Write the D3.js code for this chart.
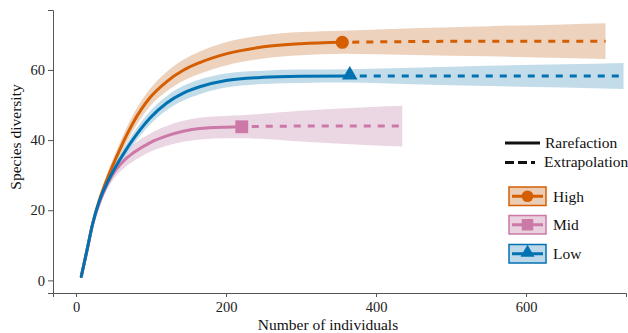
<!DOCTYPE html>
<html>
<head>
<meta charset="utf-8">
<script src="https://cdn.jsdelivr.net/npm/d3@7"></script>
<style>
  html, body { margin: 0; padding: 0; background: #fff; }
  svg { display: block; font-family: "Liberation Serif", "Times New Roman", serif; }
</style>
</head>
<body>
<svg id="chart" width="628" height="333"></svg>
<script>
// ---------- Data ----------
const groups = ["High", "Mid", "Low"];
const groupColors = ["#D55E00", "#CC79A7", "#0072B2"];
const bandColors  = ["#EBCDB6", "#E9D1E0", "#BDD8E8"];

// Rarefaction (observed) curves
const highN    = [7, 15, 22, 31, 42, 54, 66, 76, 99, 121, 143, 165, 200, 250, 300, 355];
const highMean = [1.1, 9.0, 16.0, 22.8, 29.2, 35.2, 40.8, 44.9, 52.2, 56.7, 59.9, 62.1, 64.6, 66.6, 67.5, 67.9];
const highLo   = [0.9, 8.5, 15.2, 21.7, 27.7, 33.4, 38.7, 42.6, 49.7, 53.9, 56.9, 58.9, 61.3, 63.3, 64.2, 64.6];
const highHi   = [1.3, 9.5, 16.8, 23.9, 30.7, 37.0, 42.9, 47.2, 54.7, 59.5, 62.9, 65.3, 67.9, 69.9, 70.8, 71.2];

const midN     = [7, 15, 22, 31, 42, 54, 66, 76, 99, 121, 143, 165, 200, 221];
const midMean  = [1.1, 8.9, 15.8, 22.0, 27.6, 31.8, 34.6, 36.3, 39.3, 41.2, 42.5, 43.3, 43.7, 43.8];
const midLo    = [0.9, 8.4, 15.0, 20.9, 26.1, 29.9, 32.4, 33.9, 36.7, 38.4, 39.5, 40.2, 40.5, 40.5];
const midHi    = [1.3, 9.4, 16.6, 23.1, 29.1, 33.7, 36.8, 38.7, 41.9, 44.0, 45.5, 46.4, 46.9, 47.1];

const lowN     = [7, 15, 22, 31, 42, 54, 66, 76, 99, 121, 143, 165, 200, 250, 300, 365];
const lowMean  = [1.1, 9.0, 16.0, 22.6, 28.0, 32.8, 37.0, 40.2, 46.4, 50.6, 53.4, 55.2, 57.0, 57.9, 58.2, 58.3];
const lowLo    = [0.9, 8.6, 15.4, 21.8, 26.9, 31.5, 35.5, 38.5, 44.5, 48.6, 51.3, 53.1, 55.0, 56.0, 56.3, 56.4];
const lowHi    = [1.3, 9.4, 16.6, 23.4, 29.1, 34.1, 38.5, 41.9, 48.3, 52.6, 55.5, 57.3, 59.0, 59.8, 60.1, 60.2];

// Extrapolation curves
const highExtN    = [355, 450, 550, 650, 706];
const highExtMean = [67.9, 68.1, 68.2, 68.2, 68.2];
const highExtLo   = [64.6, 64.3, 63.9, 63.4, 63.1];
const highExtHi   = [71.2, 71.9, 72.5, 73.0, 73.3];

const midExtN     = [221, 300, 380, 435];
const midExtMean  = [43.8, 44.0, 44.0, 44.0];
const midExtLo    = [40.5, 39.6, 38.7, 38.2];
const midExtHi    = [47.1, 48.4, 49.3, 49.8];

const lowExtN     = [365, 450, 550, 650, 730];
const lowExtMean  = [58.3, 58.3, 58.3, 58.3, 58.3];
const lowExtLo    = [56.4, 55.9, 55.4, 55.0, 54.6];
const lowExtHi    = [60.2, 60.6, 61.2, 61.6, 62.0];

const xTicks = [0, 200, 400, 600];
const yTicks = [0, 20, 40, 60];
const xTitle = "Number of individuals";
const yTitle = "Species diversity";
const lineTypes = ["Rarefaction", "Extrapolation"];

// ---------- Build ----------
const zip = (n, m, lo, hi) => n.map((v, i) => ({ n: v, m: m[i], lo: lo[i], hi: hi[i] }));
const series = [
  { name: "High", color: groupColors[0], band: bandColors[0], shape: d3.symbolCircle, size: 135,
    obs: zip(highN, highMean, highLo, highHi), ext: zip(highExtN, highExtMean, highExtLo, highExtHi) },
  { name: "Mid", color: groupColors[1], band: bandColors[1], shape: d3.symbolSquare, size: 165,
    obs: zip(midN, midMean, midLo, midHi), ext: zip(midExtN, midExtMean, midExtLo, midExtHi) },
  { name: "Low", color: groupColors[2], band: bandColors[2], shape: d3.symbolTriangle, size: 105,
    obs: zip(lowN, lowMean, lowLo, lowHi), ext: zip(lowExtN, lowExtMean, lowExtLo, lowExtHi) }
];

const svg = d3.select("#chart");
const x = d3.scaleLinear().domain([-30.7, 733.3]).range([53, 626]);
const y = d3.scaleLinear().domain([-3.6, 77.1]).range([293, 10]);

const area = d3.area().x(d => x(d.n)).y0(d => y(d.lo)).y1(d => y(d.hi)).curve(d3.curveMonotoneX);
const line = d3.line().x(d => x(d.n)).y(d => y(d.m)).curve(d3.curveMonotoneX);

// Bands
const bandG = svg.append("g");
series.forEach(s => {
  bandG.append("path").datum(s.obs.concat(s.ext.slice(1)))
    .attr("d", area).attr("fill", s.band).attr("fill-opacity", 0.9);
});

// Lines
const lineG = svg.append("g");
series.forEach(s => {
  lineG.append("path").datum(s.ext).attr("d", line)
    .attr("fill", "none").attr("stroke", s.color).attr("stroke-width", 3)
    .attr("stroke-dasharray", "7,7").attr("stroke-dashoffset", -10);
});
series.forEach(s => {
  lineG.append("path").datum(s.obs).attr("d", line)
    .attr("fill", "none").attr("stroke", s.color).attr("stroke-width", 3)
    .attr("stroke-linecap", "round");
});
// Endpoint markers
series.forEach(s => {
  const last = s.obs[s.obs.length - 1];
  lineG.append("path")
    .attr("d", d3.symbol().type(s.shape).size(s.size)())
    .attr("transform", `translate(${x(last.n)},${y(last.m) + (s.name === "Low" ? -1 : 0)})`)
    .attr("fill", s.color);
});

// Axes
const axisColor = "#555";
const yAxis = svg.append("g").attr("transform", "translate(53,0)")
  .call(d3.axisLeft(y).tickValues(yTicks).tickSize(5).tickPadding(3));
yAxis.select(".domain").attr("stroke", axisColor);
yAxis.selectAll(".tick line").attr("stroke", axisColor);
yAxis.selectAll("text").attr("font-size", 14.5).attr("fill", "#222")
  .attr("font-family", "Liberation Serif, serif");

const xAxis = svg.append("g").attr("transform", "translate(0,293)")
  .call(d3.axisBottom(x).tickValues(xTicks).tickSize(4).tickPadding(5));
xAxis.select(".domain").attr("stroke", axisColor);
xAxis.selectAll(".tick line").attr("stroke", axisColor);
xAxis.selectAll("text").attr("font-size", 14.5).attr("fill", "#222")
  .attr("font-family", "Liberation Serif, serif");

svg.append("text").attr("x", 328).attr("y", 330).attr("text-anchor", "middle")
  .attr("font-size", 15.5).attr("fill", "#111").text(xTitle);
svg.append("text").attr("transform", "translate(21,137) rotate(-90)").attr("text-anchor", "middle")
  .attr("font-size", 15.5).attr("fill", "#111").text(yTitle);

// Legend: line types
const lg = svg.append("g");
lg.append("line").attr("x1", 505).attr("x2", 540).attr("y1", 143).attr("y2", 143)
  .attr("stroke", "#111").attr("stroke-width", 3);
lg.append("line").attr("x1", 505).attr("x2", 543).attr("y1", 162.5).attr("y2", 162.5)
  .attr("stroke", "#111").attr("stroke-width", 3).attr("stroke-dasharray", "9,4,9,4,4");
lg.append("text").attr("x", 545).attr("y", 147.5).attr("font-size", 15.5).attr("fill", "#111").text(lineTypes[0]);
lg.append("text").attr("x", 544).attr("y", 167).attr("font-size", 15.5).attr("fill", "#111").text(lineTypes[1]);

// Legend: groups
const boxTops = [187, 215.5, 244.5];
series.forEach((s, i) => {
  const g = lg.append("g").attr("transform", `translate(509,${boxTops[i]})`);
  g.append("rect").attr("x", 0).attr("y", 0).attr("width", 37).attr("height", 18.5)
    .attr("fill", s.band).attr("stroke", s.color).attr("stroke-width", 1.5);
  g.append("line").attr("x1", 3).attr("x2", 34).attr("y1", 9.25).attr("y2", 9.25)
    .attr("stroke", s.color).attr("stroke-width", 3);
  g.append("path").attr("d", d3.symbol().type(s.shape).size(s.size * 0.8)())
    .attr("transform", `translate(18.5,${9.25 + (s.name === "Low" ? -1 : 0)})`).attr("fill", s.color);
  g.append("text").attr("x", 44).attr("y", 14.5).attr("font-size", 15.5).attr("fill", "#111").text(groups[i]);
});
</script>
</body>
</html>
